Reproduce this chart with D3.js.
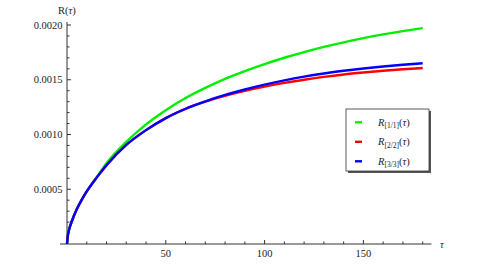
<!DOCTYPE html>
<html><head><meta charset="utf-8">
<script src="https://cdn.jsdelivr.net/npm/d3@7"></script>
<style>body{margin:0;background:#fff}svg{display:block}</style>
</head><body>
<script>
const tau   = [0, 0.5, 1, 2.5, 5, 7.5, 10, 15, 20, 30, 40, 50, 60, 70, 80, 90, 100, 110, 120, 130, 140, 150, 160, 170, 180];
const r11   = [0, 0.000085, 0.000127, 0.000210, 0.000320, 0.000406, 0.000480, 0.000610, 0.000737, 0.000932, 0.001092, 0.001222, 0.001333, 0.001426, 0.001508, 0.001579, 0.001643, 0.001701, 0.001753, 0.001800, 0.001842, 0.001880, 0.001914, 0.001944, 0.001971];
const r22   = [0, 0.000085, 0.000127, 0.000210, 0.000320, 0.000406, 0.000480, 0.000606, 0.000720, 0.000905, 0.001040, 0.001150, 0.001235, 0.001300, 0.001353, 0.001398, 0.001437, 0.001471, 0.001500, 0.001526, 0.001548, 0.001566, 0.001582, 0.001596, 0.001607];
const r33   = [0, 0.000085, 0.000127, 0.000210, 0.000320, 0.000406, 0.000480, 0.000606, 0.000720, 0.000905, 0.001040, 0.001150, 0.001235, 0.001303, 0.001361, 0.001411, 0.001455, 0.001494, 0.001528, 0.001557, 0.001582, 0.001603, 0.001621, 0.001637, 0.001651];
const xTicks = [50, 100, 150];
const yTicks = [0.0005, 0.0010, 0.0015, 0.0020];
const yTickLabels = ["0.0005", "0.0010", "0.0015", "0.0020"];
const seriesNames = ["1/1", "2/2", "3/3"];
const seriesColors = ["#00ee00", "#ff0000", "#0000ff"];

const W = 482, H = 267;
const svg = d3.select("body").append("svg").attr("width", W).attr("height", H);
const x = d3.scaleLinear().domain([0, 50]).range([67, 165.8]);
const y = d3.scaleLinear().domain([0, 0.0005]).range([244, 189.25]);
const axisColor = "#333";
const serif = "'Liberation Serif','Times New Roman',serif";

// axes lines
svg.append("line").attr("x1", 60).attr("x2", 431.5).attr("y1", y(0)).attr("y2", y(0)).attr("stroke", axisColor).attr("stroke-width", 1);
svg.append("line").attr("x1", x(0)).attr("x2", x(0)).attr("y1", 22).attr("y2", y(0) + 0).attr("stroke", axisColor).attr("stroke-width", 1);

// x ticks
const xMinor = d3.range(10, 185, 10);
svg.selectAll(".xt").data(xMinor).enter().append("line")
  .attr("x1", d => x(d)).attr("x2", d => x(d))
  .attr("y1", y(0)).attr("y2", d => y(0) - (d % 50 === 0 ? 4 : 2.5))
  .attr("stroke", axisColor).attr("stroke-width", 1);
svg.selectAll(".xl").data(xTicks).enter().append("text")
  .attr("x", d => x(d)).attr("y", 257).attr("text-anchor", "middle")
  .attr("font-family", serif).attr("font-size", 10.5).attr("fill", "#222").text(d => d);
svg.append("text").attr("x", 440).attr("y", 248).attr("font-family", serif).attr("font-style", "italic")
  .attr("font-size", 10.5).attr("fill", "#222").text("τ");

// y ticks
const yMinor = d3.range(1, 21).map(i => i * 0.0001);
svg.selectAll(".yt").data(yMinor).enter().append("line")
  .attr("x1", x(0)).attr("x2", (d, i) => x(0) + ((i + 1) % 5 === 0 ? 4 : 2.5))
  .attr("y1", d => y(d)).attr("y2", d => y(d))
  .attr("stroke", axisColor).attr("stroke-width", 1);
svg.selectAll(".yl").data(yTicks).enter().append("text")
  .attr("x", 62.5).attr("y", d => y(d) + 3.5).attr("text-anchor", "end")
  .attr("font-family", serif).attr("font-size", 10.5).attr("fill", "#222").text((d, i) => yTickLabels[i]);
const yl = svg.append("text").attr("x", 58).attr("y", 14).attr("font-family", serif).attr("font-size", 10.5).attr("fill", "#222");
yl.append("tspan").text("R(");
yl.append("tspan").attr("font-style", "italic").text("τ");
yl.append("tspan").text(")");

// curves
const data = [r11, r22, r33];
const line = d3.line().x((d, i) => x(tau[i])).y(d => y(d)).curve(d3.curveMonotoneX);
data.forEach((s, k) => {
  svg.append("path").datum(s).attr("d", line).attr("fill", "none")
    .attr("stroke", seriesColors[k]).attr("stroke-width", 2.4).attr("stroke-linejoin", "round");
});

// legend
const lx = 346, ly = 109, lw = 83, lh = 62;
svg.append("rect").attr("x", lx + 2).attr("y", ly + 2).attr("width", lw).attr("height", lh).attr("fill", "#555");
svg.append("rect").attr("x", lx).attr("y", ly).attr("width", lw).attr("height", lh).attr("fill", "#fff").attr("stroke", "#333").attr("stroke-width", 0.8);
seriesNames.forEach((n, k) => {
  const cy = 122.3 + k * 19.5;
  svg.append("line").attr("x1", 355).attr("x2", 362).attr("y1", cy).attr("y2", cy)
    .attr("stroke", seriesColors[k]).attr("stroke-width", 2.4);
  const t = svg.append("text").attr("x", 378).attr("y", cy + 3.5).attr("font-family", serif).attr("font-size", 10.5).attr("fill", "#222");
  t.append("tspan").attr("font-style", "italic").text("R");
  t.append("tspan").attr("font-size", 7.5).attr("dy", 2.5).text("[" + n + "]");
  t.append("tspan").attr("dy", -2.5).text("(");
  t.append("tspan").attr("font-style", "italic").text("τ");
  t.append("tspan").text(")");
});
</script>
</body></html>
